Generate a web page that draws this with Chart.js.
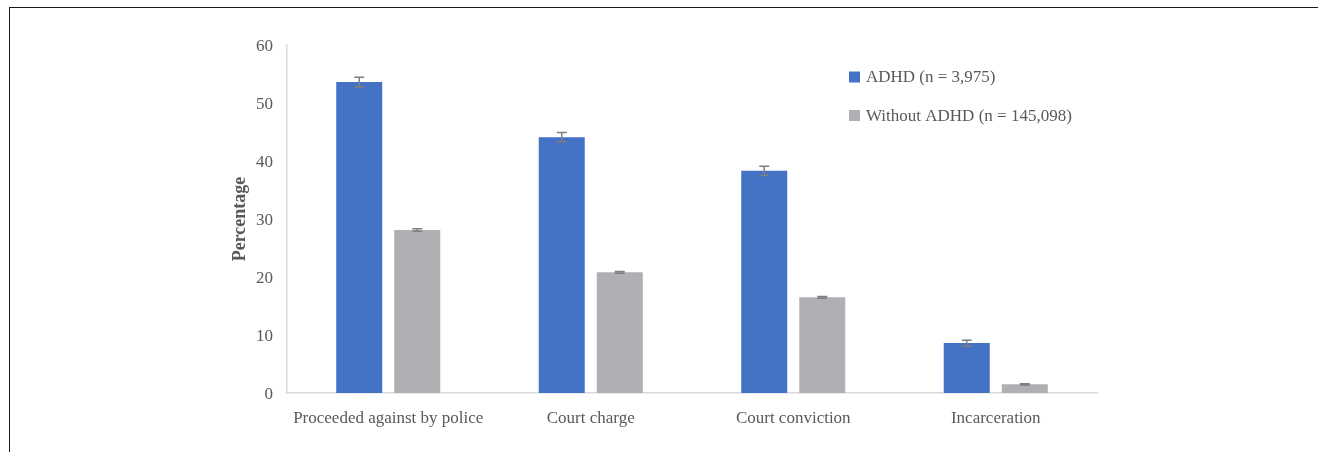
<!DOCTYPE html>
<html>
<head>
<meta charset="utf-8">
<script src="https://cdn.jsdelivr.net/npm/chart.js@4"></script>
<style>
  html, body { margin: 0; padding: 0; background: #fff; overflow: hidden; }
  #wrap { position: relative; width: 1318px; height: 452px; }
  #frame { position: absolute; left: 9px; top: 7px; width: 1400px; height: 600px; border: 1px solid #1a1a1a; box-sizing: border-box; pointer-events: none; }
  canvas { position: absolute; left: 0; top: 0; }
</style>
</head>
<body>
<div id="wrap">
  <canvas id="c" width="1318" height="452"></canvas>
  <div id="frame"></div>
</div>
<script>
const categories = ["Proceeded against by police", "Court charge", "Court conviction", "Incarceration"];
const seriesLabels = ["ADHD (n = 3,975)", "Without ADHD (n = 145,098)"];
const adhdValues = [53.6, 44.1, 38.3, 8.6];
const adhdErrors = [0.85, 0.8, 0.8, 0.5];
const withoutValues = [28.1, 20.8, 16.5, 1.5];
const withoutErrors = [0.2, 0.15, 0.15, 0.1];
const yMin = 0, yMax = 60, yStep = 10;

const FONT = "'Liberation Serif', 'Times New Roman', serif";
const TEXT = "#595959";
const errorSets = [adhdErrors, withoutErrors];

const errorBarPlugin = {
  id: 'errorBars',
  afterDatasetsDraw(chart) {
    const ctx = chart.ctx;
    const y = chart.scales.y;
    ctx.save();
    ctx.strokeStyle = '#7f7f7f';
    ctx.lineWidth = 1.5;
    chart.data.datasets.forEach((ds, di) => {
      const meta = chart.getDatasetMeta(di);
      meta.data.forEach((el, i) => {
        const v = ds.data[i], e = errorSets[di][i];
        const yt = y.getPixelForValue(v + e);
        const yb = y.getPixelForValue(v - e);
        const x = el.x;
        ctx.beginPath();
        ctx.moveTo(x, yt); ctx.lineTo(x, yb);
        ctx.moveTo(x - 5, yt); ctx.lineTo(x + 5, yt);
        ctx.moveTo(x - 5, yb); ctx.lineTo(x + 5, yb);
        ctx.stroke();
      });
    });
    ctx.restore();
  }
};

const legendPlugin = {
  id: 'customLegend',
  afterDraw(chart) {
    const ctx = chart.ctx;
    ctx.save();
    ctx.font = "17px " + FONT;
    ctx.textBaseline = 'middle';
    ctx.textAlign = 'left';
    const rows = [77, 115.5];
    chart.data.datasets.forEach((ds, i) => {
      const cy = rows[i];
      ctx.fillStyle = ds.backgroundColor;
      ctx.fillRect(849, cy - 5.5, 11, 11);
      ctx.fillStyle = TEXT;
      ctx.fillText(ds.label, 866, cy + 1);
    });
    ctx.restore();
  }
};

new Chart(document.getElementById('c'), {
  type: 'bar',
  data: {
    labels: categories,
    datasets: [
      { label: seriesLabels[0], data: adhdValues, backgroundColor: '#4472C4', categoryPercentage: 0.573, barPercentage: 0.793 },
      { label: seriesLabels[1], data: withoutValues, backgroundColor: '#AFB0B3', categoryPercentage: 0.573, barPercentage: 0.793 }
    ]
  },
  options: {
    responsive: false,
    animation: false,
    events: [],
    layout: { padding: { left: 230, right: 221, top: 45, bottom: 0 } },
    plugins: { legend: { display: false }, tooltip: { enabled: false } },
    scales: {
      x: {
        grid: { display: false, drawTicks: false },
        border: { display: true, color: '#d9d9d9', width: 1.5 },
        ticks: { color: TEXT, font: { family: FONT, size: 17 }, padding: 15, maxRotation: 0 },
        afterFit(s) { s.height = 59; }
      },
      y: {
        min: yMin, max: yMax,
        grid: { display: false, drawTicks: false },
        border: { display: true, color: '#d9d9d9', width: 1.5 },
        ticks: { stepSize: yStep, color: TEXT, font: { family: FONT, size: 17 }, padding: 14, labelOffset: 2 },
        title: { display: true, text: 'Percentage', color: TEXT, font: { family: FONT, size: 18, weight: 'bold' }, padding: 0 },
        afterFit(s) { s.width = 57; }
      }
    }
  },
  plugins: [errorBarPlugin, legendPlugin]
});
</script>
</body>
</html>
